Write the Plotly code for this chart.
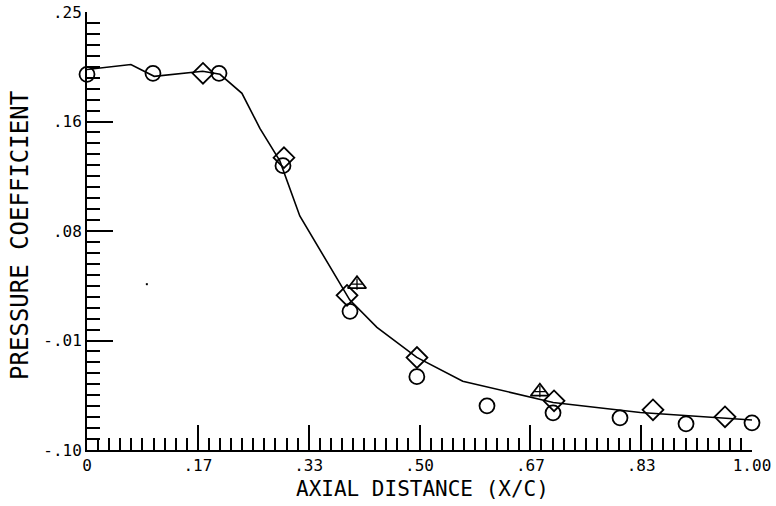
import plotly.graph_objects as go

# Solid curve (computed pressure coefficient)
line_x = [0.0, 0.066, 0.101, 0.174, 0.200, 0.233, 0.260, 0.290, 0.320, 0.361, 0.395,
          0.436, 0.496, 0.565, 0.666, 0.701, 0.832, 0.941, 1.000]
line_y = [0.204, 0.208, 0.1986, 0.2027, 0.2002, 0.185, 0.157, 0.131, 0.087, 0.050, 0.020,
          -0.002, -0.026, -0.045, -0.058, -0.062, -0.070, -0.074, -0.076]

# Circles
circ_x = [0.0, 0.0992, 0.1985, 0.2947, 0.3955, 0.496, 0.6015, 0.7008, 0.8015, 0.9008, 1.0]
circ_y = [0.2002, 0.201, 0.201, 0.1272, 0.0108, -0.0414, -0.0647, -0.0703, -0.0743, -0.0791, -0.0783]

# Diamonds
diam_x = [0.1744, 0.2962, 0.391, 0.4962, 0.7023, 0.8511, 0.9594]
diam_y = [0.201, 0.1336, 0.0236, -0.0261, -0.0607, -0.0679, -0.0735]

# Triangles
tri_x = [0.406, 0.681]
tri_y = [0.0325, -0.0534]

# Speck
speck_x = [0.09]
speck_y = [0.0325]

x_tickvals = [0, 1/6, 2/6, 3/6, 4/6, 5/6, 1.0]
x_ticktext = ["0", ".17", ".33", ".50", ".67", ".83", "1.00"]
y_tickvals = [-0.10, -0.0125, 0.075, 0.1625, 0.25]
y_ticktext = ["-.10", "-.01", ".08", ".16", ".25"]

FONT = "DejaVu Sans Mono"
fig = go.Figure()
fig.add_trace(go.Scatter(x=line_x, y=line_y, mode="lines",
                         line=dict(color="black", width=1.6), cliponaxis=False,
                         showlegend=False))
fig.add_trace(go.Scatter(x=circ_x, y=circ_y, mode="markers", cliponaxis=False,
                         marker=dict(symbol="circle-open", size=15, color="black",
                                     line=dict(width=1.8, color="black")),
                         showlegend=False))
fig.add_trace(go.Scatter(x=diam_x, y=diam_y, mode="markers", cliponaxis=False,
                         marker=dict(symbol="diamond-open", size=16, color="black",
                                     line=dict(width=1.8, color="black")),
                         showlegend=False))
fig.add_trace(go.Scatter(x=tri_x, y=tri_y, mode="markers", cliponaxis=False,
                         marker=dict(symbol="triangle-up-open", size=16, color="black",
                                     line=dict(width=1.8, color="black")),
                         showlegend=False))
fig.add_trace(go.Scatter(x=tri_x, y=tri_y, mode="markers", cliponaxis=False,
                         marker=dict(symbol="cross-thin-open", size=8, color="black",
                                     line=dict(width=1.3, color="black")),
                         showlegend=False))
fig.add_trace(go.Scatter(x=speck_x, y=speck_y, mode="markers", cliponaxis=False,
                         marker=dict(symbol="square", size=2, color="black"),
                         showlegend=False))

fig.update_layout(
    width=776, height=506,
    margin=dict(l=87, r=24, t=12, b=56),
    paper_bgcolor="white", plot_bgcolor="white",
    font=dict(family=FONT, color="black", size=16),
    xaxis=dict(range=[0, 1.0], tickmode="array", tickvals=x_tickvals, ticktext=x_ticktext,
               automargin=False, ticklabeloverflow="allow",
               showgrid=False, zeroline=False, showline=True, linecolor="black", linewidth=2,
               ticks="inside", ticklen=25, tickwidth=1.5, tickcolor="black",
               minor=dict(ticks="inside", ticklen=12, tickwidth=1.5, tickcolor="black",
                          tick0=0, dtick=1/60, showgrid=False),
               tickfont=dict(family=FONT, size=16)),
    yaxis=dict(range=[-0.10, 0.25], tickmode="array", tickvals=y_tickvals, ticktext=y_ticktext,
               automargin=False, ticklabeloverflow="allow",
               showgrid=False, zeroline=False, showline=True, linecolor="black", linewidth=2,
               ticks="inside", ticklen=26, tickwidth=1.5, tickcolor="black",
               minor=dict(ticks="inside", ticklen=13, tickwidth=1.5, tickcolor="black",
                          tick0=-0.10, dtick=0.00875, showgrid=False),
               tickfont=dict(family=FONT, size=16)),
    annotations=[
        dict(text="AXIAL DISTANCE (X/C)", xref="paper", yref="paper", x=0.505, y=-0.09,
             xanchor="center", yanchor="middle", showarrow=False,
             font=dict(family=FONT, size=21, color="black")),
        dict(text="PRESSURE COEFFICIENT", xref="paper", yref="paper", x=-0.10, y=0.49,
             xanchor="center", yanchor="middle", showarrow=False, textangle=-90,
             font=dict(family=FONT, size=24, color="black")),
    ],
)

fig.write_html("out.html")
